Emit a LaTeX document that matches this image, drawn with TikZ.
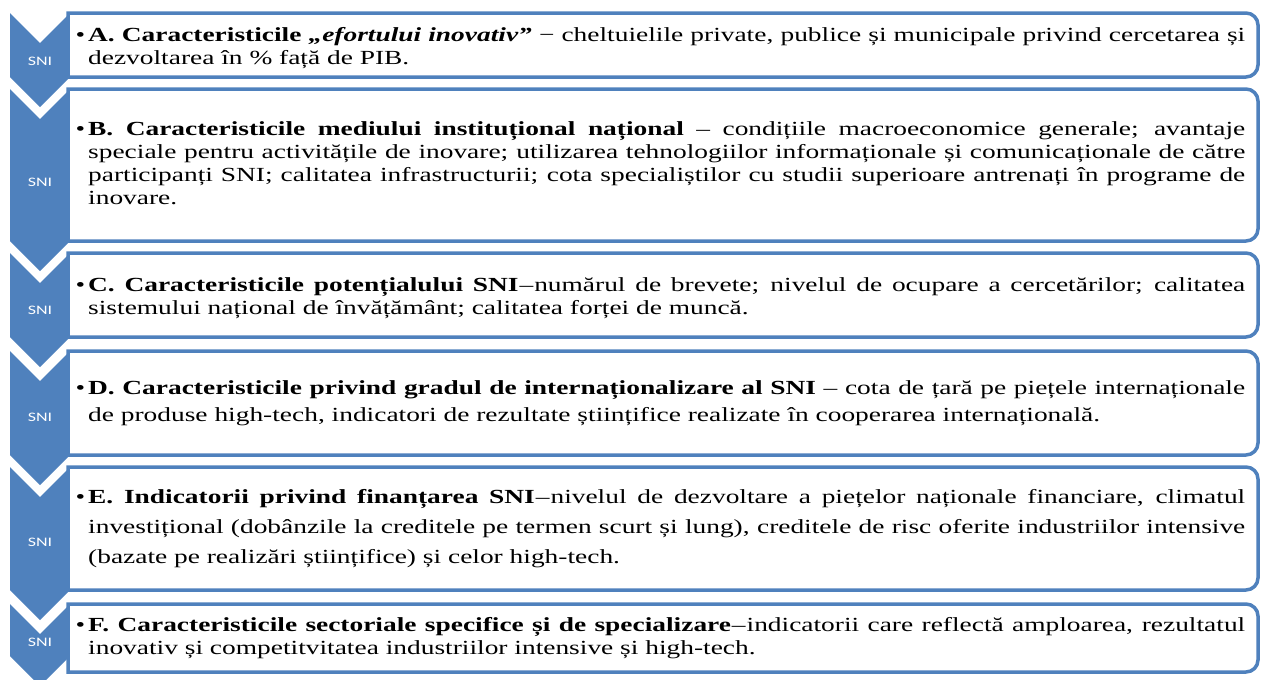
\documentclass[tikz,border=0pt]{standalone}
\usepackage{fontspec}
\setmainfont{Liberation Serif}[FakeStretch=1.37]
\newfontfamily\snifont{Carlito}[FakeStretch=1.38]
\definecolor{acc}{HTML}{4F81BD}
\newcommand{\fline}[1]{\hbox to \hsize{#1}}
\newcommand{\lline}[1]{\hbox{#1}}
\newcommand{\bul}{\llap{•\kern3pt}}
\newcommand{\tblock}[2]{\vbox{\hsize=1157pt\fontsize{20}{#1}\selectfont #2}}
\newcommand{\chev}[2]{\fill[acc] (10,#1) -- (40,#1+30) -- (70,#1) -- (70,#2) -- (40,#2+30) -- (10,#2) -- cycle;}
\newcommand{\panel}[2]{\path[panelbox] (68,#1) -- (1246,#1) .. controls (1252.6,#1) and (1258,#1+5.4) .. (1258,#1+12) -- (1258,#2-12) .. controls (1258,#2-5.4) and (1252.6,#2) .. (1246,#2) -- (68,#2) -- cycle;}
\tikzset{
  panelbox/.style={draw=acc, line width=3.5pt, fill=white},
  snilabel/.style={text=white, font=\snifont\fontsize{13}{15}\selectfont, inner sep=0pt},
  txt/.style={anchor=west, inner sep=0pt, text=black}
}
\begin{document}
\begin{tikzpicture}[x=1pt,y=-1pt]
\useasboundingbox (0,0) rectangle (1269,680);
% chevrons
\chev{13}{77}
\chev{89}{241}
\chev{253}{337}
\chev{351}{455}
\chev{467}{590}
\chev{604}{656}
% panels
\panel{13}{77}
\panel{89}{241}
\panel{253}{337}
\panel{351}{455}
\panel{467}{590}
\panel{604}{672}
% SNI labels
\node[snilabel] (sA) at (40,61) {SNI};
\node[snilabel] (sB) at (40,182) {SNI};
\node[snilabel] (sC) at (40,310) {SNI};
\node[snilabel] (sD) at (40,417) {SNI};
\node[snilabel] (sE) at (40,542) {SNI};
\node[snilabel] (sF) at (40,642) {SNI};
% texts
\node[txt] (tA) at (88,48) {\tblock{23pt}{%
\fline{\bul\textbf{A. Caracteristicile \textit{„efortului inovativ”}} − cheltuielile private, publice și municipale privind cercetarea și}
\lline{dezvoltarea în \% față de PIB.}}};
\node[txt] (tB) at (88,163) {\tblock{23pt}{%
\fline{\bul\textbf{B. Caracteristicile mediului instituțional național} – condițiile macroeconomice generale; avantaje}
\fline{speciale pentru activitățile de inovare; utilizarea tehnologiilor informaționale și comunicaționale de către}
\fline{participanți SNI; calitatea infrastructurii; cota specialiștilor cu studii superioare antrenați în programe de}
\lline{inovare.}}};
\node[txt] (tC) at (88,298) {\tblock{23pt}{%
\fline{\bul\textbf{C. Caracteristicile potențialului SNI}\kern1pt–\kern1pt numărul de brevete; nivelul de ocupare a cercetărilor; calitatea}
\lline{sistemului național de învățământ; calitatea forței de muncă.}}};
\node[txt] (tD) at (88,403) {\tblock{27pt}{%
\fline{\bul\textbf{D. Caracteristicile privind gradul de internaționalizare al SNI} – cota de țară pe piețele internaționale}
\lline{de produse high-tech, indicatori de rezultate științifice realizate în cooperarea internațională.}}};
\node[txt] (tE) at (88,529) {\tblock{30pt}{%
\fline{\bul\textbf{E. Indicatorii privind finanțarea SNI}\kern1pt–\kern1pt nivelul de dezvoltare a piețelor naționale financiare, climatul}
\fline{investițional (dobânzile la creditele pe termen scurt și lung), creditele de risc oferite industriilor intensive}
\lline{(bazate pe realizări științifice) și celor high-tech.}}};
\node[txt] (tF) at (88,638) {\tblock{23pt}{%
\fline{\bul\textbf{F. Caracteristicile sectoriale specifice și de specializare}\kern1pt–\kern1pt indicatorii care reflectă amploarea, rezultatul}
\lline{inovativ și competitvitatea industriilor intensive și high-tech.}}};
\end{tikzpicture}
\end{document}
